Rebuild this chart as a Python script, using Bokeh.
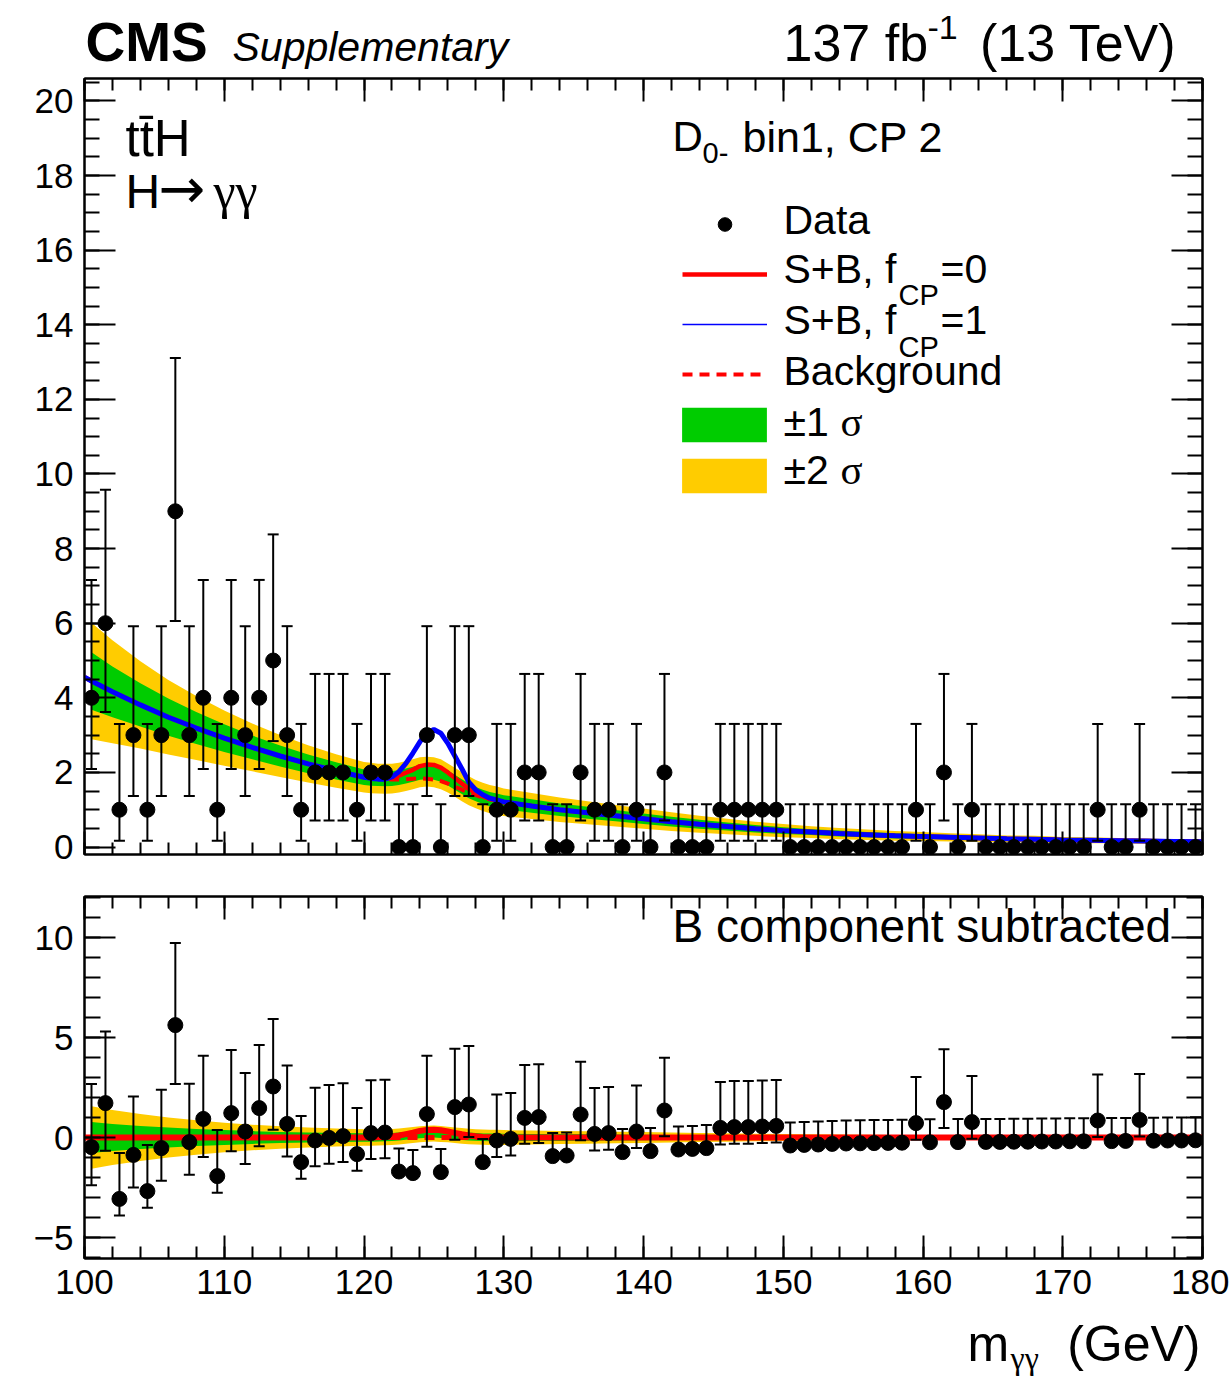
import numpy as np
from bokeh.plotting import figure
from bokeh.models import (LinearAxis, SingleIntervalTicker, Label, Legend, LegendItem, Range1d,
                          CustomJSTickFormatter)
from bokeh.layouts import column
from bokeh.embed import file_html
from bokeh.resources import INLINE

# ---------------- data ----------------
bin_centers = [100.5 + i for i in range(80)]
counts = [4, 6, 1, 3, 1, 3, 9, 3, 4, 1,
          4, 3, 4, 5, 3, 1, 2, 2, 2, 1,
          2, 2, 0, 0, 3, 0, 3, 3, 0, 1,
          1, 2, 2, 0, 0, 2, 1, 1, 0, 1,
          0, 2, 0, 0, 0, 1, 1, 1, 1, 1,
          0, 0, 0, 0, 0, 0, 0, 0, 0, 1,
          0, 2, 0, 1, 0, 0, 0, 0, 0, 0,
          0, 0, 1, 0, 0, 1, 0, 0, 0, 0]
# B component subtracted (lower panel)
resid = [-0.48, 1.72, -3.07, -0.87, -2.68, -0.53, 5.62, -0.23, 0.93, -1.93,
         1.22, 0.30, 1.47, 2.55, 0.68, -1.23, -0.15, -0.02, 0.07, -0.83,
         0.22, 0.25, -1.70, -1.78, 1.17, -1.73, 1.52, 1.65, -1.23, -0.15,
         -0.07, 0.98, 1.02, -0.93, -0.90, 1.15, 0.18, 0.22, -0.73, 0.30,
         -0.68, 1.35, -0.60, -0.57, -0.53, 0.48, 0.52, 0.52, 0.55, 0.58,
         -0.40, -0.37, -0.35, -0.32, -0.30, -0.29, -0.28, -0.27, -0.26, 0.72,
         -0.24, 1.77, -0.23, 0.77, -0.22, -0.22, -0.21, -0.21, -0.20, -0.20,
         -0.19, -0.19, 0.85, -0.18, -0.17, 0.88, -0.16, -0.15, -0.15, -0.14]
# Poisson 68% intervals (down, up) by observed count
err_down = {0: 0.0, 1: 0.83, 2: 1.29, 3: 1.63, 4: 1.91, 5: 2.16, 6: 2.38, 9: 2.94}
err_up = {0: 1.15, 1: 2.30, 2: 2.64, 3: 2.92, 4: 3.16, 5: 3.38, 6: 3.58, 9: 4.11}

# fitted curves
x_curve = [100, 100.5, 102, 104, 106, 108, 110, 112, 114, 116, 118,
           120, 120.5, 121, 121.5, 122, 122.5, 123, 123.5, 124, 124.5, 125,
           125.5, 126, 126.5, 127, 127.5, 128, 128.5, 129, 129.5, 130,
           132, 134, 136, 138, 140, 142, 144, 146, 148, 150, 152, 154, 156,
           158, 160, 162, 164, 166, 168, 170, 172, 174, 176, 178, 180]
bkg = [4.55, 4.45, 4.16, 3.81, 3.48, 3.19, 2.92, 2.67, 2.44, 2.23, 2.04,
       1.87, 1.83, 1.79, 1.75, 1.71, 1.67, 1.64, 1.60, 1.57, 1.53, 1.50,
       1.47, 1.43, 1.40, 1.37, 1.34, 1.31, 1.28, 1.25, 1.23, 1.20,
       1.10, 1.00, 0.92, 0.84, 0.76, 0.68, 0.61, 0.55, 0.49, 0.44, 0.40, 0.36, 0.33,
       0.30, 0.28, 0.26, 0.24, 0.22, 0.21, 0.19, 0.18, 0.17, 0.16, 0.15, 0.14]
# excesses on the 120..130 GeV fine grid (step 0.5)
bump_bkg = [0.0, 0.02, 0.04, 0.07, 0.10, 0.14, 0.18, 0.23, 0.27, 0.30, 0.31,
            0.30, 0.27, 0.22, 0.17, 0.12, 0.08, 0.05, 0.03, 0.01, 0.0]
exc_cp0 = [0.0, 0.02, 0.05, 0.09, 0.15, 0.24, 0.35, 0.47, 0.60, 0.68, 0.70,
           0.66, 0.57, 0.45, 0.33, 0.22, 0.14, 0.08, 0.04, 0.02, 0.0]
exc_cp1 = [0.0, 0.01, 0.03, 0.07, 0.17, 0.35, 0.60, 0.92, 1.25, 1.53, 1.65,
           1.58, 1.35, 1.04, 0.73, 0.40, 0.22, 0.12, 0.06, 0.03, 0.01]
# background uncertainty half widths
hw2 = [1.62, 1.56, 1.38, 1.17, 1.00, 0.86, 0.74, 0.64, 0.56, 0.50, 0.45,
       0.41, 0.41, 0.40, 0.40, 0.40, 0.40, 0.40, 0.40, 0.40, 0.40, 0.40,
       0.40, 0.39, 0.39, 0.39, 0.39, 0.38, 0.38, 0.38, 0.38, 0.37,
       0.35, 0.33, 0.31, 0.29, 0.27, 0.25, 0.23, 0.21, 0.19, 0.18, 0.16, 0.15, 0.14,
       0.13, 0.12, 0.11, 0.10, 0.09, 0.09, 0.08, 0.08, 0.07, 0.07, 0.06, 0.06]
hw1 = [0.80, 0.77, 0.68, 0.58, 0.50, 0.43, 0.37, 0.32, 0.28, 0.25, 0.23,
       0.21, 0.21, 0.20, 0.20, 0.20, 0.20, 0.20, 0.20, 0.20, 0.20, 0.20,
       0.20, 0.20, 0.20, 0.20, 0.20, 0.19, 0.19, 0.19, 0.19, 0.19,
       0.18, 0.17, 0.16, 0.15, 0.14, 0.13, 0.12, 0.11, 0.10, 0.09, 0.08, 0.08, 0.07,
       0.07, 0.06, 0.06, 0.05, 0.05, 0.05, 0.04, 0.04, 0.04, 0.04, 0.03, 0.03]

# ---------------- derived ----------------
xc = np.array(x_curve, dtype=float)
b = np.array(bkg)
fine = np.where((xc >= 120) & (xc <= 130))[0]
bump_f = np.zeros_like(xc); bump_f[fine] = bump_bkg
cp0_f = np.zeros_like(xc); cp0_f[fine] = exc_cp0
cp1_f = np.zeros_like(xc); cp1_f[fine] = exc_cp1
h2 = np.array(hw2); h1 = np.array(hw1)

dashed_top = b + bump_f
red_top = b + cp0_f
blue_top = b + cp1_f
band_c_top = b + (bump_f + cp0_f) / 2.0
red_bot = cp0_f - bump_f
dash_bot = np.zeros_like(xc)
band_c_bot = red_bot / 2.0

xs = np.array(bin_centers)
n = np.array(counts)
lo = np.array([err_down[k] for k in counts])
hi = np.array([err_up[k] for k in counts])
r = np.array(resid)

FONT = "Liberation Sans"
SERIF = "Liberation Serif"
W = 1229
HEAD_H = 72
TOP_H = 6 + 776 + 20           # 802
BOT_H = 22 + 362 + 55          # 439
FOOT_H = 1378 - HEAD_H - TOP_H - BOT_H
BOT_Y0 = HEAD_H + TOP_H
FOOT_Y0 = BOT_Y0 + BOT_H

# pixel -> data helpers for text placement (py = desired baseline in page px)
def X(px):
    return 100 + (px - 84) * 80.0 / 1118.0

def Yt(py):
    return 20.6 - (py - 78) * 20.8 / 776.0

def Yb(py):
    return 12.05 - (py - (BOT_Y0 + 22)) / 20.0

def Yh(py):
    return HEAD_H - py

def Yf(py):
    return FOOT_H - (py - FOOT_Y0)


def add_axes(p, xint, xminor, yint, yminor, xmaj, xmin, ymaj, ymin, xlab, ylab, yover=None):
    for side in ("below", "above", "left", "right"):
        if side in ("below", "above"):
            ax = LinearAxis(ticker=SingleIntervalTicker(interval=xint, num_minor_ticks=xminor))
            ax.major_tick_in = xmaj
            ax.minor_tick_in = xmin
            show = xlab and side == "below"
        else:
            ax = LinearAxis(ticker=SingleIntervalTicker(interval=yint, num_minor_ticks=yminor))
            ax.major_tick_in = ymaj
            ax.minor_tick_in = ymin
            show = ylab and side == "left"
            if yover and show:
                ax.major_label_overrides = yover
        ax.major_tick_out = 0
        ax.minor_tick_out = 0
        ax.axis_line_width = 2
        ax.major_tick_line_width = 2
        ax.minor_tick_line_width = 2
        ax.axis_line_color = "black"
        ax.major_label_text_font = FONT
        ax.major_label_text_color = "black"
        if show:
            ax.major_label_text_font_size = "35px"
            ax.major_label_standoff = 11
        else:
            ax.formatter = CustomJSTickFormatter(code="return ''")
            ax.major_label_text_font_size = "1px"
            ax.major_label_standoff = 0
        p.add_layout(ax, side)


def txt(p, x, y_page, text, size, xmap, ymap, font=FONT, style="normal", align="left"):
    # Bokeh places the alphabetic baseline ~0.37 em below the anchor; compensate
    py = y_page - 0.37 * size
    p.add_layout(Label(x=xmap(x), y=ymap(py), text=text, text_font=font,
                       text_font_size=f"{size}px", text_font_style=style,
                       text_align=align, text_baseline="alphabetic", text_color="black"))


def style_fig(p):
    p.outline_line_color = "black"
    p.outline_line_width = 2
    p.background_fill_color = "white"
    p.border_fill_color = "white"
    p.xgrid.visible = False
    p.ygrid.visible = False


def blank_fig(h):
    # frames of a column are aligned, so this frame spans page x 84..1202
    f = figure(width=W, height=h, x_range=Range1d(84, 1202), y_range=Range1d(0, h),
               x_axis_type=None, y_axis_type=None, output_backend="svg", toolbar_location=None,
               min_border_left=84, min_border_right=27, min_border_top=0, min_border_bottom=0)
    f.outline_line_color = None
    f.xgrid.visible = False
    f.ygrid.visible = False
    f.background_fill_color = "white"
    f.border_fill_color = "white"
    return f

ident = lambda v: v

# ---------------- header ----------------
ph = blank_fig(HEAD_H)
txt(ph, 85, 62, "CMS", 55, ident, Yh, style="bold")
txt(ph, 232, 62, "Supplementary", 41, ident, Yh, style="italic")
txt(ph, 783, 62, "137 fb", 52, ident, Yh)
txt(ph, 927, 40, "-1", 34, ident, Yh)
txt(ph, 1176, 62, "(13 TeV)", 52, ident, Yh, align="right")

# ---------------- top panel ----------------
p1 = figure(width=W, height=TOP_H, x_range=Range1d(100, 180), y_range=Range1d(-0.2, 20.6),
            x_axis_type=None, y_axis_type=None, output_backend="svg", toolbar_location=None,
            min_border_left=84, min_border_right=27, min_border_top=6, min_border_bottom=20)
style_fig(p1)
add_axes(p1, 10, 5, 2, 4, 23, 12, 31, 15, False, True)

yel = p1.varea(x=xc[1:], y1=(band_c_top - h2)[1:], y2=(band_c_top + h2)[1:], fill_color="#ffcc00")
grn = p1.varea(x=xc[1:], y1=(band_c_top - h1)[1:], y2=(band_c_top + h1)[1:], fill_color="#00cc00")
dsh = p1.line(xc, dashed_top, line_color="red", line_width=4, line_dash="10 7")
red = p1.line(xc, red_top, line_color="red", line_width=4.5)
blue_thin = p1.line(xc, blue_top, line_color="blue", line_width=1.5)
p1.line(xc, blue_top, line_color="blue", line_width=5)
p1.segment(x0=xs, y0=n - lo, x1=xs, y1=n + hi, line_color="black", line_width=2)
p1.scatter(xs, n + hi, marker="dash", size=11, line_color="black", line_width=2)
p1.scatter(xs, n - lo, marker="dash", size=11, line_color="black", line_width=2)
pts = p1.scatter(xs, n, marker="circle", size=15, fill_color="black", line_color="black")

leg1 = Legend(items=[LegendItem(label=" ", renderers=[pts]),
                     LegendItem(label=" ", renderers=[red]),
                     LegendItem(label=" ", renderers=[blue_thin]),
                     LegendItem(label=" ", renderers=[dsh])],
              location=(598, 463), glyph_width=85, glyph_height=34, label_height=34,
              label_width=1, label_standoff=0, spacing=16, padding=0, margin=0,
              border_line_alpha=0, background_fill_alpha=0, label_text_font_size="1px")
leg2 = Legend(items=[LegendItem(label=" ", renderers=[grn]),
                     LegendItem(label=" ", renderers=[yel])],
              location=(587, 357), glyph_width=106, glyph_height=43, label_height=43,
              label_width=1, label_standoff=0, spacing=8, padding=0, margin=0,
              border_line_alpha=0, background_fill_alpha=0, label_text_font_size="1px")
p1.add_layout(leg1)
p1.add_layout(leg2)

txt(p1, 125, 157, "tt\u0304H", 51, X, Yt)
txt(p1, 125, 209, "H", 48, X, Yt)
txt(p1, 158, 209, "\u2192", 56, X, Yt, font="DejaVu Sans")
txt(p1, 213, 209, "\u03b3\u03b3", 50, X, Yt, font=SERIF)
txt(p1, 672, 152, "D", 42, X, Yt)
txt(p1, 702, 163, "0-", 29, X, Yt)
txt(p1, 742, 152, "bin1, CP 2", 43, X, Yt)
# legend texts
txt(p1, 783, 235, "Data", 41, X, Yt)
txt(p1, 783, 284, "S+B, f", 41, X, Yt)
txt(p1, 898, 305, "CP", 29, X, Yt)
txt(p1, 940, 284, "=0", 41, X, Yt)
txt(p1, 783, 335, "S+B, f", 41, X, Yt)
txt(p1, 898, 357, "CP", 29, X, Yt)
txt(p1, 940, 335, "=1", 41, X, Yt)
txt(p1, 783, 386, "Background", 41, X, Yt)
txt(p1, 783, 437, "\u00b11", 41, X, Yt)
txt(p1, 840, 437, "\u03c3", 41, X, Yt, font=SERIF)
txt(p1, 783, 485, "\u00b12", 41, X, Yt)
txt(p1, 840, 485, "\u03c3", 41, X, Yt, font=SERIF)

# ---------------- bottom panel ----------------
p2 = figure(width=W, height=BOT_H, x_range=p1.x_range, y_range=Range1d(-6.05, 12.05),
            x_axis_type=None, y_axis_type=None, output_backend="svg", toolbar_location=None,
            min_border_left=84, min_border_right=27, min_border_top=22, min_border_bottom=55)
style_fig(p2)
add_axes(p2, 10, 5, 5, 5, 23, 12, 31, 16, True, True, yover={-5: "\u22125"})

p2.varea(x=xc[1:], y1=(band_c_bot - h2)[1:], y2=(band_c_bot + h2)[1:], fill_color="#ffcc00")
p2.varea(x=xc[1:], y1=(band_c_bot - h1)[1:], y2=(band_c_bot + h1)[1:], fill_color="#00cc00")
p2.line(xc, red_bot, line_color="red", line_width=6)
p2.line(xc, dash_bot, line_color="red", line_width=5, line_dash="10 7")
p2.segment(x0=xs, y0=r - lo, x1=xs, y1=r + hi, line_color="black", line_width=2)
p2.scatter(xs, r + hi, marker="dash", size=11, line_color="black", line_width=2)
p2.scatter(xs, r - lo, marker="dash", size=11, line_color="black", line_width=2)
p2.scatter(xs, r, marker="circle", size=15, fill_color="black", line_color="black")

txt(p2, 672, 943, "B component subtracted", 46, X, Yb)

# ---------------- footer (axis title) ----------------
pf = blank_fig(FOOT_H)
txt(pf, 967, 1362, "m", 50, ident, Yf)
txt(pf, 1010, 1369, "\u03b3\u03b3", 32, ident, Yf, font=SERIF)
txt(pf, 1200, 1362, "(GeV)", 50, ident, Yf, align="right")

layout = column(ph, p1, p2, pf)
open("out.html", "w").write(file_html(layout, INLINE))
